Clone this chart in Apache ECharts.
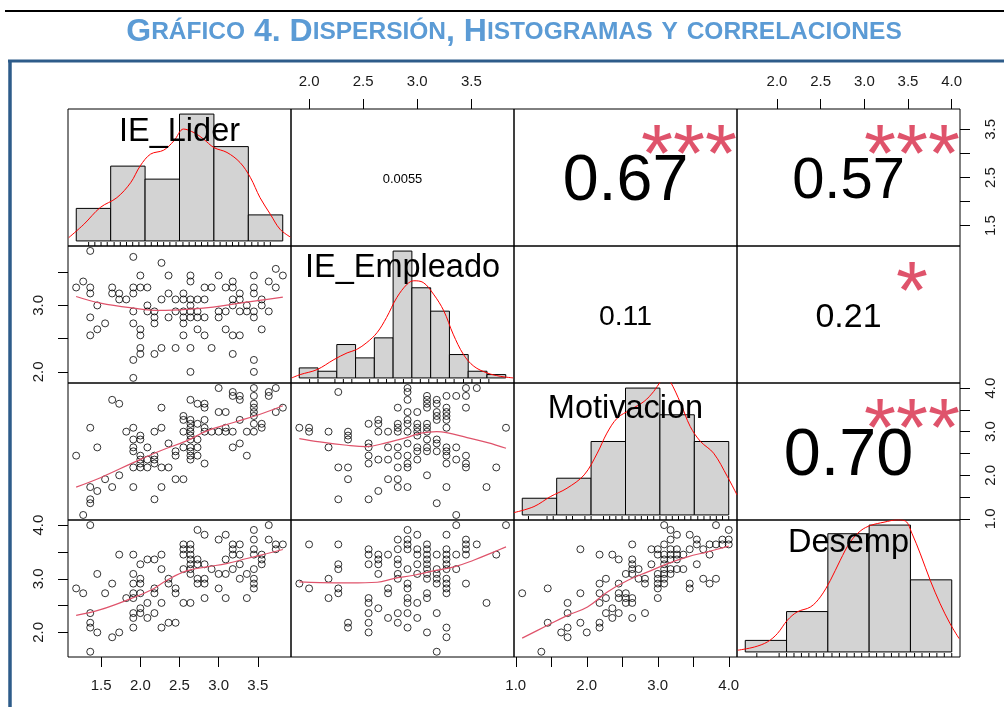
<!DOCTYPE html>
<html><head><meta charset="utf-8">
<script src="https://cdn.jsdelivr.net/npm/echarts@6/dist/echarts.min.js"></script>
<style>html,body{margin:0;padding:0;background:#fff}#c{width:1004px;height:707px}</style>
</head><body><div id="c"></div>
<script>
// ---------------- data ----------------
const titleStr = 'Gráfico 4. Dispersión, Histogramas y correlaciones';
const varNames = ['IE_Lider', 'IE_Empleado', 'Motivacion', 'Desemp'];
// axis extents (data range extended 4% each side, as R pairs does)
const axisRanges = [[1.076, 3.924], [1.833, 3.894], [0.975, 4.116], [1.542, 4.095]];

// outer axis ticks and labels
const tickValues = [[1.5, 2, 2.5, 3, 3.5], [2, 2.5, 3, 3.5], [1, 1.5, 2, 2.5, 3, 3.5, 4], [2, 2.5, 3, 3.5, 4]];
const topLabels = [null, [2, 2.5, 3, 3.5], null, [2, 2.5, 3, 3.5, 4]];
const bottomLabels = [[1.5, 2, 2.5, 3, 3.5], null, [1, 2, 3, 4], null];
const leftLabels = [null, [2, 3], null, [2, 3, 4]];
const rightLabels = [[1.5, 2.5, 3.5], null, [1, 2, 3, 4], null];

// correlations (upper panels)
const corrCells = [[0, 1], [0, 2], [0, 3], [1, 2], [1, 3], [2, 3]];
const corrText = ['0.0055', '0.67', '0.57', '0.11', '0.21', '0.70'];
const corrStars = ['', '***', '***', '', '*', '***'];

// histograms (diagonal)
const liderBreaks = [1.0, 1.5, 2.0, 2.5, 3.0, 3.5, 4.0];
const liderCounts = [10, 23, 19, 39, 29, 8];
const empBreaks = [1.8, 2.0, 2.2, 2.4, 2.6, 2.8, 3.0, 3.2, 3.4, 3.6, 3.8, 4.0];
const empCounts = [3, 2, 10, 6, 12, 38, 27, 20, 7, 2, 1];
const motivBreaks = [1.0, 1.5, 2.0, 2.5, 3.0, 3.5, 4.0];
const motivCounts = [5, 11, 22, 38, 30, 22];
const desempBreaks = [1.5, 2.0, 2.5, 3.0, 3.5, 4.0];
const desempCounts = [4, 14, 41, 44, 25];

// density curves (in count units)
const liderDens = [[0.89,1.0],[1.11,5.1],[1.35,10.3],[1.59,13.3],[1.79,17.9],[1.93,23.1],[2.08,26.7],[2.27,27.9],[2.42,30.8],[2.56,34.4],[2.71,33.3],[2.85,31.3],[3.0,28.7],[3.19,27.2],[3.38,24.1],[3.53,19.5],[3.67,13.3],[3.82,8.2],[3.96,3.6],[4.11,1.2]];
const empDens = [[1.72,0],[1.81,1.0],[1.99,2.5],[2.17,5.5],[2.31,7.5],[2.41,8.5],[2.52,10.6],[2.63,13.6],[2.73,18.1],[2.84,24.1],[2.95,28.1],[3.02,29.1],[3.12,28.6],[3.23,25.1],[3.34,20.1],[3.44,13.1],[3.55,7.0],[3.66,3.5],[3.8,1.5],[3.94,0.5],[4.08,0]];
const motivDens = [[0.88,0.7],[1.17,2.5],[1.41,5.5],[1.65,8.0],[1.9,12.0],[2.09,18.5],[2.23,24.5],[2.38,29],[2.57,31.5],[2.77,34],[2.91,37],[3.01,40],[3.08,41.5],[3.15,40],[3.3,33.5],[3.44,26.5],[3.59,22],[3.78,18.5],[3.98,11.5],[4.12,6]];
const desempDens = [[1.41,0.6],[1.61,1.7],[1.77,3.5],[1.89,6.4],[2.01,11],[2.13,13.9],[2.29,15.6],[2.41,19.1],[2.53,24.8],[2.65,31.8],[2.77,38.1],[2.9,42.1],[3.02,43.9],[3.18,45],[3.34,45.8],[3.44,45.4],[3.52,41],[3.62,34],[3.74,24.8],[3.86,16.7],[3.98,9.8],[4.09,4.6]];

// rug values
const liderRug = [1.18,1.27,1.36,1.45,1.55,1.64,1.73,1.82,1.91,2.00,2.09,2.18,2.27,2.36,2.45,2.55,2.64,2.73,2.82,2.91,3.00,3.09,3.18,3.27,3.36,3.45,3.55,3.64,3.73,3.82];
const empRug = [1.91,2.00,2.18,2.27,2.36,2.55,2.64,2.73,2.82,2.91,3.00,3.09,3.18,3.27,3.36,3.45,3.55,3.64,3.73,3.82];
const motivRug = [1.09,1.36,1.45,1.64,1.73,1.91,2.00,2.18,2.27,2.36,2.45,2.55,2.64,2.73,2.82,2.91,3.00,3.09,3.18,3.27,3.36,3.45,3.55,3.64,3.73,3.82,3.91,4.00];
const desempRug = [1.64,1.91,2.00,2.09,2.18,2.27,2.36,2.45,2.55,2.64,2.73,2.82,2.91,3.00,3.09,3.18,3.27,3.36,3.45,3.55,3.64,3.73,3.82,3.91,4.00];

// scatter panels
const liderEmp = [[1.36,3.82],[1.18,3.27],[1.27,3.36],[1.36,3.27],[1.36,3.18],[1.45,3.00],[1.36,2.82],[1.45,2.64],[1.36,2.55],[1.55,2.73],[1.91,3.73],[2.00,3.45],[1.91,3.27],[2.00,3.27],[2.09,3.27],[1.64,3.27],[1.64,3.18],[1.73,3.18],[1.73,3.09],[1.82,3.09],[1.91,3.18],[1.91,2.91],[1.91,2.73],[2.00,2.64],[2.00,2.55],[2.00,2.36],[2.00,2.27],[1.91,2.18],[1.91,1.91],[2.27,3.64],[2.36,3.45],[2.09,3.00],[2.09,2.91],[2.18,2.91],[2.18,2.82],[2.18,2.73],[2.18,2.27],[2.27,3.09],[2.27,2.36],[2.36,3.18],[2.36,2.82],[2.45,3.09],[2.45,2.91],[2.45,2.36],[2.55,3.18],[2.55,3.09],[2.55,2.91],[2.55,2.82],[2.55,2.73],[2.55,2.55],[2.64,3.45],[2.64,3.36],[2.64,3.09],[2.64,3.00],[2.64,2.91],[2.64,2.82],[2.64,2.36],[2.64,2.00],[2.73,3.09],[2.73,2.91],[2.73,2.82],[2.73,2.64],[2.82,3.27],[2.82,3.09],[2.82,2.82],[2.82,2.55],[2.91,3.27],[2.91,2.36],[3.00,3.45],[3.00,2.91],[3.00,2.82],[3.09,3.27],[3.09,2.91],[3.09,2.64],[3.18,3.36],[3.18,3.27],[3.18,3.09],[3.18,3.00],[3.18,2.55],[3.18,2.27],[3.27,3.18],[3.27,3.09],[3.27,2.91],[3.27,2.55],[3.36,3.00],[3.36,2.91],[3.45,3.45],[3.45,3.27],[3.45,3.18],[3.45,2.91],[3.45,2.82],[3.45,2.18],[3.45,2.00],[3.55,3.09],[3.55,3.00],[3.55,2.64],[3.64,3.36],[3.64,2.91],[3.73,3.55],[3.73,3.27],[3.82,3.45]];
const liderMotiv = [[1.18,2.45],[1.27,1.09],[1.36,3.09],[1.36,1.73],[1.36,1.45],[1.36,1.36],[1.45,2.64],[1.45,1.64],[1.55,1.91],[1.64,3.73],[1.64,1.73],[1.73,3.64],[1.73,2.00],[1.82,3.00],[1.91,3.09],[1.91,2.82],[1.91,2.64],[1.91,2.55],[1.91,2.18],[1.91,1.73],[2.00,2.91],[2.00,2.82],[2.00,2.45],[2.00,2.36],[2.00,2.27],[2.00,2.18],[2.09,2.64],[2.09,2.36],[2.09,2.18],[2.18,3.00],[2.18,2.45],[2.18,2.36],[2.18,2.27],[2.18,1.45],[2.27,3.55],[2.27,3.09],[2.27,2.18],[2.27,1.73],[2.36,2.73],[2.36,2.18],[2.45,2.55],[2.45,2.45],[2.45,1.91],[2.55,3.36],[2.55,3.27],[2.55,3.00],[2.55,2.64],[2.55,1.91],[2.64,3.73],[2.64,3.27],[2.64,3.18],[2.64,3.09],[2.64,3.00],[2.64,2.91],[2.64,2.82],[2.64,2.64],[2.64,2.55],[2.64,2.45],[2.64,2.36],[2.73,3.64],[2.73,3.18],[2.73,2.82],[2.73,2.64],[2.73,2.45],[2.82,3.64],[2.82,3.55],[2.82,3.27],[2.82,3.09],[2.82,3.00],[2.82,2.27],[2.91,3.00],[3.00,4.00],[3.00,3.45],[3.00,3.00],[3.09,3.45],[3.09,3.09],[3.09,3.00],[3.18,3.91],[3.18,3.82],[3.18,3.00],[3.18,2.64],[3.27,3.82],[3.27,3.73],[3.27,3.27],[3.27,2.73],[3.36,3.00],[3.36,2.45],[3.45,4.00],[3.45,3.82],[3.45,3.64],[3.45,3.55],[3.45,3.45],[3.45,3.36],[3.45,3.18],[3.45,3.00],[3.55,3.18],[3.55,3.09],[3.64,3.91],[3.64,3.82],[3.73,4.00],[3.73,3.45],[3.82,3.55]];
const empMotiv = [[1.91,3.09],[2.00,3.09],[2.00,3.00],[2.18,3.00],[2.18,2.64],[2.27,3.91],[2.27,2.18],[2.27,1.45],[2.36,3.00],[2.36,2.91],[2.36,2.82],[2.36,2.18],[2.36,1.91],[2.55,3.18],[2.55,2.73],[2.55,2.64],[2.55,2.45],[2.55,2.27],[2.55,1.45],[2.64,3.27],[2.64,3.18],[2.64,3.00],[2.64,2.36],[2.64,1.64],[2.73,3.00],[2.73,2.64],[2.73,2.36],[2.73,1.91],[2.82,3.55],[2.82,3.18],[2.82,3.09],[2.82,3.00],[2.82,2.64],[2.82,2.45],[2.82,2.18],[2.82,1.91],[2.82,1.73],[2.91,4.00],[2.91,3.91],[2.91,3.73],[2.91,3.45],[2.91,3.27],[2.91,3.18],[2.91,3.00],[2.91,2.73],[2.91,2.45],[2.91,2.27],[2.91,2.18],[2.91,1.73],[3.00,3.45],[3.00,3.18],[3.00,3.09],[3.00,3.00],[3.00,2.91],[3.00,2.64],[3.00,2.55],[3.00,2.36],[3.09,3.82],[3.09,3.73],[3.09,3.64],[3.09,3.55],[3.09,3.18],[3.09,3.09],[3.09,3.00],[3.09,2.82],[3.09,2.64],[3.09,2.55],[3.09,2.00],[3.18,3.73],[3.18,3.64],[3.18,3.45],[3.18,3.36],[3.18,3.27],[3.18,2.82],[3.18,2.73],[3.18,2.55],[3.18,1.36],[3.27,3.82],[3.27,3.55],[3.27,3.45],[3.27,3.36],[3.27,3.27],[3.27,3.09],[3.27,2.64],[3.27,2.55],[3.27,2.45],[3.27,2.27],[3.27,1.73],[3.36,3.82],[3.36,2.64],[3.36,2.36],[3.36,1.09],[3.45,4.00],[3.45,3.82],[3.45,3.55],[3.45,2.45],[3.45,2.27],[3.45,2.18],[3.55,4.00],[3.64,1.73],[3.73,2.18],[3.82,3.09]];
const liderDesemp = [[1.36,4.00],[1.18,2.82],[1.27,2.73],[1.36,2.36],[1.36,2.18],[1.36,2.09],[1.45,3.09],[1.45,2.00],[1.36,1.64],[1.55,2.73],[1.64,2.91],[1.64,1.91],[1.73,3.45],[1.73,2.00],[1.82,2.64],[1.91,3.45],[1.91,3.09],[1.91,2.91],[1.91,2.73],[1.91,2.64],[1.91,2.36],[1.91,2.27],[1.91,2.09],[2.00,3.27],[2.00,3.00],[2.00,2.91],[2.00,2.73],[2.00,2.45],[2.00,2.36],[2.09,3.36],[2.09,2.55],[2.09,2.27],[2.18,3.36],[2.18,2.82],[2.18,2.73],[2.18,2.36],[2.27,3.45],[2.27,3.18],[2.27,2.55],[2.27,2.09],[2.36,3.00],[2.36,2.91],[2.36,2.18],[2.45,2.82],[2.45,2.73],[2.45,2.18],[2.55,3.64],[2.55,3.55],[2.55,3.45],[2.55,3.18],[2.55,2.55],[2.64,3.64],[2.64,3.55],[2.64,3.45],[2.64,3.36],[2.64,3.27],[2.64,3.18],[2.64,3.09],[2.64,2.55],[2.73,3.91],[2.73,3.36],[2.73,3.27],[2.73,3.00],[2.73,2.91],[2.82,3.82],[2.82,3.27],[2.82,3.00],[2.82,2.91],[2.82,2.64],[2.91,3.18],[3.00,3.73],[3.00,3.09],[3.00,2.82],[3.09,3.82],[3.09,3.36],[3.09,3.09],[3.09,2.64],[3.18,3.64],[3.18,3.55],[3.18,3.45],[3.18,3.18],[3.27,3.64],[3.27,3.45],[3.27,3.27],[3.27,3.00],[3.36,3.09],[3.36,2.64],[3.45,3.91],[3.45,3.73],[3.45,3.55],[3.45,3.45],[3.45,3.18],[3.45,3.00],[3.45,2.91],[3.45,2.82],[3.55,3.45],[3.55,3.36],[3.55,3.27],[3.64,4.00],[3.64,3.73],[3.73,3.64],[3.73,3.55],[3.82,3.64]];
const empDesemp = [[1.91,2.91],[2.00,3.64],[2.00,2.82],[2.18,3.00],[2.18,2.64],[2.27,3.64],[2.27,3.27],[2.27,3.18],[2.27,2.82],[2.27,2.73],[2.36,2.18],[2.36,2.09],[2.55,3.55],[2.55,3.45],[2.55,3.27],[2.55,2.64],[2.55,2.55],[2.55,2.36],[2.55,2.18],[2.55,2.00],[2.64,3.45],[2.64,3.36],[2.64,3.27],[2.64,3.09],[2.64,2.45],[2.73,3.45],[2.73,2.82],[2.73,2.73],[2.73,2.27],[2.82,3.73],[2.82,3.55],[2.82,3.36],[2.82,3.27],[2.82,3.09],[2.82,3.00],[2.82,2.36],[2.82,2.18],[2.91,3.91],[2.91,3.73],[2.91,3.64],[2.91,3.55],[2.91,3.18],[2.91,2.91],[2.91,2.82],[2.91,2.64],[2.91,2.55],[2.91,2.36],[2.91,2.09],[3.00,3.82],[3.00,3.55],[3.00,3.45],[3.00,3.27],[3.00,3.09],[3.00,2.55],[3.00,2.27],[3.09,3.64],[3.09,3.55],[3.09,3.45],[3.09,3.36],[3.09,3.27],[3.09,3.18],[3.09,3.09],[3.09,3.00],[3.09,2.73],[3.09,2.64],[3.09,2.00],[3.18,3.45],[3.18,3.18],[3.18,3.09],[3.18,3.00],[3.18,2.91],[3.18,2.36],[3.18,1.64],[3.27,3.82],[3.27,3.55],[3.27,3.45],[3.27,3.36],[3.27,3.27],[3.27,3.18],[3.27,3.00],[3.27,2.91],[3.27,2.82],[3.27,2.73],[3.27,2.09],[3.27,1.91],[3.36,4.00],[3.36,3.45],[3.36,3.18],[3.45,3.73],[3.45,3.64],[3.45,3.55],[3.45,3.45],[3.45,2.91],[3.55,3.64],[3.64,2.55],[3.73,3.45],[3.82,4.00]];
const motivDesemp = [[1.09,2.73],[1.36,1.64],[1.45,2.82],[1.45,2.18],[1.64,2.00],[1.73,2.55],[1.73,2.36],[1.73,2.09],[1.73,1.91],[1.91,3.55],[1.91,2.73],[1.91,2.18],[2.00,2.00],[2.18,3.45],[2.18,2.91],[2.18,2.73],[2.18,2.55],[2.18,2.18],[2.18,2.09],[2.27,3.00],[2.27,2.64],[2.27,2.36],[2.36,3.45],[2.36,2.45],[2.36,2.27],[2.45,3.36],[2.45,2.91],[2.45,2.73],[2.45,2.64],[2.45,2.36],[2.55,3.09],[2.55,2.73],[2.55,2.64],[2.55,2.55],[2.64,3.64],[2.64,3.36],[2.64,3.27],[2.64,3.18],[2.64,3.09],[2.64,2.64],[2.64,2.55],[2.64,2.27],[2.73,3.18],[2.73,3.00],[2.82,3.00],[2.82,2.91],[2.82,2.36],[2.91,3.55],[2.91,3.27],[3.00,3.55],[3.00,3.45],[3.00,3.09],[3.00,3.00],[3.00,2.91],[3.00,2.82],[3.00,2.64],[3.09,4.00],[3.09,3.64],[3.09,3.45],[3.09,3.36],[3.09,3.27],[3.09,3.18],[3.09,3.09],[3.09,3.00],[3.09,2.91],[3.18,3.91],[3.18,3.73],[3.18,3.55],[3.18,3.45],[3.18,3.36],[3.18,3.18],[3.18,3.09],[3.27,3.82],[3.27,3.55],[3.27,3.45],[3.27,3.36],[3.27,3.18],[3.36,3.45],[3.36,3.18],[3.45,3.82],[3.45,3.55],[3.45,2.91],[3.45,2.82],[3.55,3.73],[3.55,3.64],[3.55,3.27],[3.64,3.55],[3.64,3.00],[3.73,3.64],[3.73,3.45],[3.73,2.91],[3.82,4.00],[3.82,3.64],[3.82,3.00],[3.91,3.73],[3.91,3.64],[4.00,3.91],[4.00,3.73],[4.00,3.64]];

// smooth (loess) lines in scatter panels
const liderEmpFit = [[1.18,3.135],[1.49,3.035],[1.91,2.96],[2.25,2.925],[2.59,2.94],[2.93,2.975],[3.27,3.035],[3.62,3.09],[3.82,3.125]];
const liderMotivFit = [[1.18,1.73],[1.49,1.945],[1.91,2.29],[2.25,2.558],[2.59,2.788],[2.85,3.018],[3.19,3.21],[3.53,3.40],[3.82,3.594]];
const empMotivFit = [[1.91,2.842],[2.10,2.765],[2.35,2.689],[2.53,2.658],[2.72,2.75],[2.90,2.865],[3.03,2.965],[3.18,3.003],[3.27,2.98],[3.46,2.865],[3.65,2.75],[3.82,2.62]];
const liderDesempFit = [[1.18,2.318],[1.49,2.424],[1.91,2.648],[2.13,2.785],[2.34,2.972],[2.59,3.146],[2.85,3.221],[3.10,3.283],[3.36,3.377],[3.62,3.47],[3.82,3.545]];
const empDesempFit = [[1.91,2.941],[2.10,2.928],[2.38,2.922],[2.63,2.935],[2.78,3.003],[2.97,3.065],[3.15,3.146],[3.34,3.221],[3.52,3.346],[3.71,3.502],[3.82,3.595]];
const motivDesempFit = [[1.09,1.894],[1.40,2.10],[1.73,2.318],[2.01,2.474],[2.29,2.754],[2.58,2.972],[2.86,3.128],[3.14,3.283],[3.42,3.408],[3.70,3.502],[4.00,3.607]];

// ---------------- layout / style ----------------
const X0 = 68, Y0 = 109, PW = 223, PH = 137;
const FONT = '"Liberation Sans", Arial, sans-serif';
const RED2 = '#DF536B';

const hists = [
  {breaks: liderBreaks, counts: liderCounts, dens: liderDens, rug: liderRug},
  {breaks: empBreaks, counts: empCounts, dens: empDens, rug: empRug},
  {breaks: motivBreaks, counts: motivCounts, dens: motivDens, rug: motivRug},
  {breaks: desempBreaks, counts: desempCounts, dens: desempDens, rug: desempRug}
];
const scatters = [
  {r: 1, c: 0, pts: liderEmp, fit: liderEmpFit},
  {r: 2, c: 0, pts: liderMotiv, fit: liderMotivFit},
  {r: 2, c: 1, pts: empMotiv, fit: empMotivFit},
  {r: 3, c: 0, pts: liderDesemp, fit: liderDesempFit},
  {r: 3, c: 1, pts: empDesemp, fit: empDesempFit},
  {r: 3, c: 2, pts: motivDesemp, fit: motivDesempFit}
];

function histXRange(h) { const a = h.breaks[0], b = h.breaks[h.breaks.length - 1], d = (b - a) * 0.04; return [a - d, b + d]; }
function histYRange(h) { const m = Math.max.apply(null, h.counts); return [-0.04 * m, 1.04 * m]; }

const gi = (r, c) => r * 4 + c;
const grids = [], xAxes = [], yAxes = [], series = [], graphics = [];

function baseAxis(g, range) {
  return {gridIndex: g, type: 'value', min: range[0], max: range[1], scale: true,
    splitLine: {show: false}, axisLine: {show: false}, axisTick: {show: false}, axisLabel: {show: false}};
}
function decorate(ax, pos, ticks, labels, margin, rotate) {
  ax.position = pos;
  ax.axisTick = {show: true, inside: false, length: 10, customValues: ticks, lineStyle: {color: '#000', width: 1}};
  ax.axisLabel = {show: true, customValues: labels, formatter: v => Number(v).toFixed(1), margin: margin,
    rotate: rotate || 0, fontSize: 15, fontFamily: FONT, color: '#1a1a1a'};
}

for (let r = 0; r < 4; r++) {
  for (let c = 0; c < 4; c++) {
    const g = gi(r, c);
    grids.push({left: X0 + c * PW, top: Y0 + r * PH, width: PW, height: PH, show: true,
      borderColor: '#000', borderWidth: 1, backgroundColor: 'rgba(0,0,0,0)', containLabel: false});
    const xr = r === c ? histXRange(hists[c]) : axisRanges[c];
    const yr = r === c ? histYRange(hists[r]) : axisRanges[r];
    const xa = baseAxis(g, xr), ya = baseAxis(g, yr);
    if (r === 0 && topLabels[c]) decorate(xa, 'top', tickValues[c], topLabels[c], 20, 0);
    if (r === 3 && bottomLabels[c]) decorate(xa, 'bottom', tickValues[c], bottomLabels[c], 21, 0);
    if (c === 0 && leftLabels[r]) decorate(ya, 'left', tickValues[r], leftLabels[r], 22, 90);
    if (c === 3 && rightLabels[r]) decorate(ya, 'right', tickValues[r], rightLabels[r], 23, 90);
    xAxes.push(xa); yAxes.push(ya);
  }
}

// histograms, density curves, rugs
hists.forEach((h, i) => {
  const g = gi(i, i);
  const yMin = histYRange(h)[0];
  series.push({type: 'custom', coordinateSystem: 'cartesian2d', xAxisIndex: g, yAxisIndex: g, z: 2,
    data: h.counts.map((n, k) => [h.breaks[k], h.breaks[k + 1], n]),
    encode: {x: [0, 1], y: 2},
    renderItem: (p, api) => {
      const a = api.coord([api.value(0), 0]), b = api.coord([api.value(1), api.value(2)]);
      return {type: 'rect', shape: {x: a[0], y: b[1], width: b[0] - a[0], height: a[1] - b[1]},
        style: {fill: '#D3D3D3', stroke: '#000', lineWidth: 1}};
    }});
  series.push({type: 'custom', coordinateSystem: 'cartesian2d', xAxisIndex: g, yAxisIndex: g, z: 3,
    data: h.rug.map(v => [v]), encode: {x: 0},
    renderItem: (p, api) => {
      const a = api.coord([api.value(0), yMin]);
      return {type: 'line', shape: {x1: a[0], y1: a[1], x2: a[0], y2: a[1] - 4}, style: {stroke: '#000', lineWidth: 1}};
    }});
  series.push({type: 'line', xAxisIndex: g, yAxisIndex: g, data: h.dens, smooth: 0.35, showSymbol: false,
    clip: true, z: 4, lineStyle: {color: '#FF0000', width: 1}, silent: true});
});

// scatter panels
scatters.forEach(s => {
  const g = gi(s.r, s.c);
  series.push({type: 'scatter', xAxisIndex: g, yAxisIndex: g, data: s.pts, symbol: 'circle', symbolSize: 7,
    clip: true, itemStyle: {color: 'rgba(0,0,0,0)', borderColor: '#000', borderWidth: 1}, silent: true});
  series.push({type: 'line', xAxisIndex: g, yAxisIndex: g, data: s.fit, smooth: 0.4, showSymbol: false,
    clip: true, lineStyle: {color: RED2, width: 1.2}, silent: true, z: 5});
});

// text measuring for R-like cex
const mctx = document.createElement('canvas').getContext('2d');
function emWidth(t) { mctx.font = '100px "Liberation Sans", Arial'; return mctx.measureText(t).width / 100; }

corrCells.forEach((rc, k) => {
  const r = rc[0], c = rc[1];
  const left = X0 + c * PW, top = Y0 + r * PH;
  const txt = corrText[k];
  const base = 0.755 * PW / emWidth(txt);
  const rv = Math.abs(parseFloat(txt));
  const fs = base * (rv + 0.3) / 1.3;
  graphics.push({type: 'text', x: left + PW / 2, y: top + PH / 2 + 1 + 0.06 * fs, z: 100,
    style: {text: txt, fontSize: fs, fontFamily: FONT, fill: '#000', align: 'center', verticalAlign: 'middle'}});
  if (corrStars[k]) {
    const sf = base * 0.95;
    graphics.push({type: 'text', x: left + 0.785 * PW, y: top + 0.2 * PH + 3 + 0.234 * sf, z: 100,
      style: {text: corrStars[k], fontSize: sf, fontFamily: FONT, fill: RED2, align: 'center', verticalAlign: 'middle'}});
  }
});

const labelDy = [23, 22, 26, 23.5];
varNames.forEach((n, i) => {
  graphics.push({type: 'text', x: X0 + i * PW + PW / 2, y: Y0 + i * PH + labelDy[i], z: 100,
    style: {text: n, fontSize: 32.5, fontFamily: FONT, fill: '#000', align: 'center', verticalAlign: 'middle'}});
});

// title in small caps
function smallCapsRich(s) {
  const parts = []; let cur = null, buf = '';
  for (const ch of s) {
    const low = ch !== ch.toUpperCase();
    const t = low ? 's' : 'B';
    if (t !== cur) { if (buf) parts.push('{' + cur + '|' + buf + '}'); buf = ''; cur = t; }
    buf += low ? ch.toUpperCase() : ch;
  }
  if (buf) parts.push('{' + cur + '|' + buf + '}');
  return parts.join('');
}
const TITLE_BLUE = '#5B9BD5';
graphics.push({type: 'text', x: 514, y: 32, z: 100,
  style: {text: smallCapsRich(titleStr), align: 'center', verticalAlign: 'middle', fill: TITLE_BLUE,
    fontFamily: FONT, fontWeight: 'bold', fontSize: 32,
    rich: {B: {fontSize: 32, fontWeight: 'bold', fontFamily: FONT, fill: TITLE_BLUE},
           s: {fontSize: 24.5, fontWeight: 'bold', fontFamily: FONT, fill: TITLE_BLUE}}}});
// rules / frame
graphics.push({type: 'line', z: 100, shape: {x1: 5, y1: 11, x2: 1004, y2: 11}, style: {stroke: '#000', lineWidth: 2}});
graphics.push({type: 'line', z: 100, shape: {x1: 8, y1: 61, x2: 1004, y2: 61}, style: {stroke: '#2E5C8A', lineWidth: 3}});
graphics.push({type: 'line', z: 100, shape: {x1: 10, y1: 60, x2: 10, y2: 707}, style: {stroke: '#2E5C8A', lineWidth: 3.5}});

const chart = echarts.init(document.getElementById('c'), null, {renderer: 'canvas'});
chart.setOption({
  animation: false,
  backgroundColor: '#fff',
  grid: grids, xAxis: xAxes, yAxis: yAxes, series: series, graphic: graphics
});
</script>
</body></html>
